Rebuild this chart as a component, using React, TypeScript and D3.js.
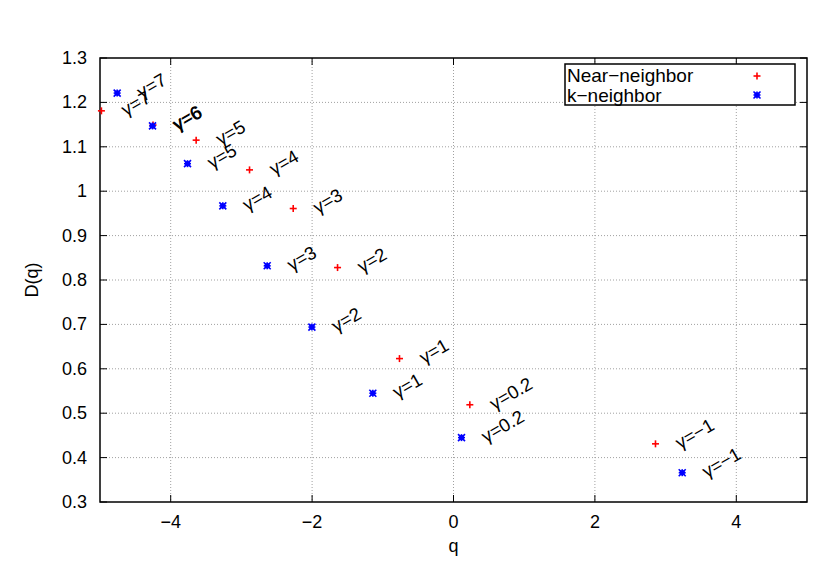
import React from "react";
import * as d3 from "d3";

const nearQ = [-4.98, -4.25, -3.64, -2.885, -2.267, -1.64, -0.764, 0.231, 2.857];
const nearD = [1.181, 1.149, 1.115, 1.048, 0.961, 0.828, 0.623, 0.519, 0.431];
const kQ = [-4.757, -4.257, -3.762, -3.263, -2.635, -2.003, -1.141, 0.113, 3.235];
const kD = [1.221, 1.147, 1.062, 0.967, 0.832, 0.694, 0.545, 0.445, 0.366];
const gammaLabels = ["7", "6", "5", "4", "3", "2", "1", "0.2", "\u22121"];
const xTicks = [-4, -2, 0, 2, 4];
const yTicks = [0.3, 0.4, 0.5, 0.6, 0.7, 0.8, 0.9, 1, 1.1, 1.2, 1.3];
const seriesNames = ["Near\u2212neighbor", "k\u2212neighbor"];

const W = 830, H = 581;
const L = 100, R = 807, T = 58, B = 502;
const FONT = "'Liberation Sans', Arial, sans-serif";

const fmtX = (v: number) => (v < 0 ? "\u2212" + Math.abs(v) : String(v));
const fmtY = (v: number) => String(+v.toFixed(1));

function Plus({ x, y, s = 3.5 }: { x: number; y: number; s?: number }) {
  return (
    <g stroke="#ff0000" strokeWidth={1.6}>
      <line x1={x - s} y1={y} x2={x + s} y2={y} />
      <line x1={x} y1={y - s} x2={x} y2={y + s} />
    </g>
  );
}

function Star({ x, y, s = 3.5 }: { x: number; y: number; s?: number }) {
  return (
    <g stroke="#0000ff" strokeWidth={1.6}>
      <rect x={x - s + 1} y={y - s + 1} width={2 * s - 2} height={2 * s - 2} fill="#0000ff" stroke="none" />
      <line x1={x - s} y1={y} x2={x + s} y2={y} />
      <line x1={x} y1={y - s} x2={x} y2={y + s} />
      <line x1={x - s} y1={y - s} x2={x + s} y2={y + s} />
      <line x1={x - s} y1={y + s} x2={x + s} y2={y - s} />
    </g>
  );
}

export default function App() {
  const x = d3.scaleLinear().domain([-5, 5]).range([L, R]);
  const y = d3.scaleLinear().domain([0.3, 1.3]).range([B, T]);
  const lblOff = 0.3;

  const label = (qx: number, dy: number, g: string, key: string) => {
    const px = x(qx + lblOff);
    const py = y(dy);
    return (
      <text
        key={key}
        x={px}
        y={py}
        dominantBaseline="central"
        transform={`rotate(-30 ${px} ${py})`}
        fontSize={18.5}
        fontFamily={FONT}
        fill="#000"
      >
        {"\u03b3=" + g}
      </text>
    );
  };

  return (
    <svg width={W} height={H} style={{ position: "absolute", left: 0, top: 0, background: "#fff" }}>
      <rect width={W} height={H} fill="#fff" />
      {/* grid */}
      <g stroke="#a0a0a0" strokeWidth={1} strokeDasharray="1,2">
        {xTicks.map((t) => (
          <line key={"gx" + t} x1={x(t)} x2={x(t)} y1={T} y2={B} />
        ))}
        {yTicks.slice(1, -1).map((t) => (
          <line key={"gy" + t} x1={L} x2={R} y1={y(t)} y2={y(t)} />
        ))}
      </g>
      {/* ticks */}
      <g stroke="#000" strokeWidth={1}>
        {xTicks.map((t) => (
          <g key={"tx" + t}>
            <line x1={x(t)} x2={x(t)} y1={B} y2={B - 7} />
            <line x1={x(t)} x2={x(t)} y1={T} y2={T + 7} />
          </g>
        ))}
        {yTicks.map((t) => (
          <g key={"ty" + t}>
            <line x1={L} x2={L + 7} y1={y(t)} y2={y(t)} />
            <line x1={R} x2={R - 7} y1={y(t)} y2={y(t)} />
          </g>
        ))}
      </g>
      <rect x={L} y={T} width={R - L} height={B - T} fill="none" stroke="#000" strokeWidth={1.5} />
      {/* tick labels */}
      <g fontFamily={FONT} fontSize={18} fill="#000">
        {xTicks.map((t) => (
          <text key={"lx" + t} x={x(t)} y={522} textAnchor="middle" dominantBaseline="central">
            {fmtX(t)}
          </text>
        ))}
        {yTicks.map((t) => (
          <text key={"ly" + t} x={87} y={y(t)} textAnchor="end" dominantBaseline="central">
            {fmtY(t)}
          </text>
        ))}
        <text x={x(0)} y={546} textAnchor="middle" dominantBaseline="central">q</text>
        <text
          x={32}
          y={280}
          textAnchor="middle"
          dominantBaseline="central"
          transform="rotate(-90 32 280)"
        >
          D(q)
        </text>
      </g>
      {/* points */}
      {nearQ.map((q, i) => (
        <Plus key={"n" + i} x={x(q)} y={y(nearD[i])} />
      ))}
      {kQ.map((q, i) => (
        <Star key={"k" + i} x={x(q)} y={y(kD[i])} />
      ))}
      {/* labels */}
      {nearQ.map((q, i) => label(q, nearD[i], gammaLabels[i], "nl" + i))}
      {kQ.map((q, i) => label(q, kD[i], gammaLabels[i], "kl" + i))}
      {/* legend */}
      <rect x={565} y={64} width={230} height={41} fill="#fff" stroke="#000" strokeWidth={1.5} />
      <g fontFamily={FONT} fontSize={19} fill="#000">
        <text x={567} y={75} dominantBaseline="central">{seriesNames[0]}</text>
        <text x={567} y={95.5} dominantBaseline="central">{seriesNames[1]}</text>
      </g>
      <Plus x={757} y={76} />
      <Star x={757} y={95} />
    </svg>
  );
}
